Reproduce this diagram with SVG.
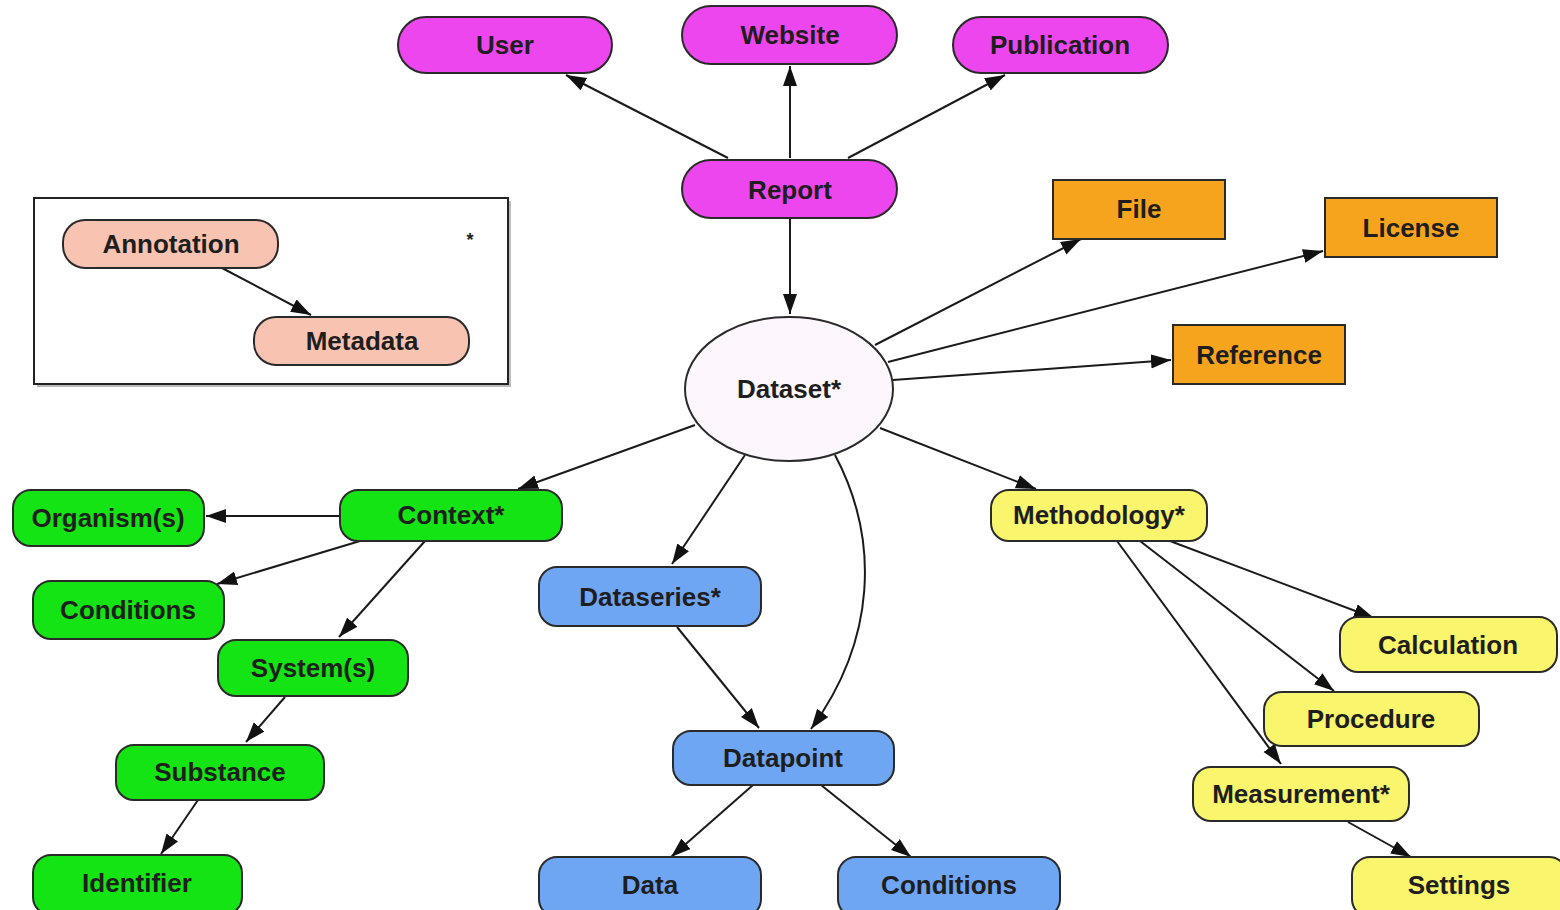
<svg xmlns="http://www.w3.org/2000/svg" width="1560" height="910" viewBox="0 0 1560 910">
<defs>
<marker id="arr" markerUnits="userSpaceOnUse" markerWidth="22" markerHeight="16" refX="20" refY="7" orient="auto">
<path d="M0,0 L20,7 L0,14 z" fill="#111"/>
</marker>
<style>
.t{font-family:"Liberation Sans",Arial,sans-serif;font-weight:bold;font-size:26px;fill:#1e1e1e;text-anchor:middle}
.n{stroke:#2a2a2a;stroke-width:2}
.mag{fill:#ee46ee}
.pink{fill:#f9c3b1}
.org{fill:#f6a41d}
.grn{fill:#14e414}
.blu{fill:#6fa6f4}
.yel{fill:#f9f56c}
.e{fill:none;stroke:#1a1a1a;stroke-width:2;marker-end:url(#arr)}
</style>
</defs>
<rect width="1560" height="910" fill="#fff"/>

<g id="legend">
<rect x="37" y="201" width="474" height="186" fill="#bbb"/>
<rect x="34" y="198" width="474" height="186" fill="#fff" stroke="#222" stroke-width="2"/>
<text x="470" y="246" class="t" style="font-size:18px">*</text>
</g>

<g id="connectors">
<path class="e" d="M728,158 L566,75"/>
<path class="e" d="M790,158 L790,66"/>
<path class="e" d="M848,158 L1005,75"/>
<path class="e" d="M790,218 L790,314"/>
<path class="e" d="M222,268 L311,315"/>
<path class="e" d="M875,345 L1081,239"/>
<path class="e" d="M888,362 L1323,251"/>
<path class="e" d="M893,380 L1171,360"/>
<path class="e" d="M695,425 L518,489"/>
<path class="e" d="M745,455 L672,564"/>
<path class="e" d="M835,455 C880,540 876,640 811,729"/>
<path class="e" d="M880,428 L1036,489"/>
<path class="e" d="M340,516 L206,516"/>
<path class="e" d="M360,541 L217,584"/>
<path class="e" d="M425,541 L339,637"/>
<path class="e" d="M285,697 L246,742"/>
<path class="e" d="M198,800 L161,854"/>
<path class="e" d="M677,627 L759,728"/>
<path class="e" d="M753,785 L671,857"/>
<path class="e" d="M821,785 L911,857"/>
<path class="e" d="M1170,541 L1374,618"/>
<path class="e" d="M1140,541 L1334,691"/>
<path class="e" d="M1117,541 L1281,764"/>
<path class="e" d="M1348,822 L1411,857"/>
</g>

<g id="user"><rect class="n mag" x="398" y="17" width="214" height="56" rx="28"/><text class="t" x="505" y="54">User</text></g>
<g id="website"><rect class="n mag" x="682" y="6" width="215" height="58" rx="29"/><text class="t" x="790" y="44">Website</text></g>
<g id="publication"><rect class="n mag" x="953" y="17" width="215" height="56" rx="28"/><text class="t" x="1060" y="54">Publication</text></g>
<g id="report"><rect class="n mag" x="682" y="160" width="215" height="58" rx="29"/><text class="t" x="790" y="199">Report</text></g>

<g id="annotation"><rect class="n pink" x="63" y="220" width="215" height="48" rx="22"/><text class="t" x="171" y="253">Annotation</text></g>
<g id="metadata"><rect class="n pink" x="254" y="317" width="215" height="48" rx="22"/><text class="t" x="362" y="350">Metadata</text></g>

<g id="dataset"><ellipse class="n" cx="789" cy="389" rx="104" ry="72" fill="#fdf7fd"/><text class="t" x="789" y="398">Dataset*</text></g>

<g id="file"><rect class="n org" x="1053" y="180" width="172" height="59"/><text class="t" x="1139" y="218">File</text></g>
<g id="license"><rect class="n org" x="1325" y="198" width="172" height="59"/><text class="t" x="1411" y="237">License</text></g>
<g id="reference"><rect class="n org" x="1173" y="325" width="172" height="59"/><text class="t" x="1259" y="364">Reference</text></g>

<g id="context"><rect class="n grn" x="340" y="490" width="222" height="51" rx="18"/><text class="t" x="451" y="524">Context*</text></g>
<g id="organism"><rect class="n grn" x="13" y="490" width="191" height="56" rx="18"/><text class="t" x="108" y="527">Organism(s)</text></g>
<g id="conditions1"><rect class="n grn" x="33" y="581" width="191" height="58" rx="18"/><text class="t" x="128" y="619">Conditions</text></g>
<g id="systems"><rect class="n grn" x="218" y="640" width="190" height="56" rx="18"/><text class="t" x="313" y="677">System(s)</text></g>
<g id="substance"><rect class="n grn" x="116" y="745" width="208" height="55" rx="18"/><text class="t" x="220" y="781">Substance</text></g>
<g id="identifier"><rect class="n grn" x="33" y="855" width="209" height="60" rx="18"/><text class="t" x="137" y="892">Identifier</text></g>

<g id="dataseries"><rect class="n blu" x="539" y="567" width="222" height="59" rx="18"/><text class="t" x="650" y="606">Dataseries*</text></g>
<g id="datapoint"><rect class="n blu" x="673" y="731" width="221" height="54" rx="18"/><text class="t" x="783" y="767">Datapoint</text></g>
<g id="data"><rect class="n blu" x="539" y="857" width="222" height="60" rx="18"/><text class="t" x="650" y="894">Data</text></g>
<g id="conditions2"><rect class="n blu" x="838" y="857" width="222" height="60" rx="18"/><text class="t" x="949" y="894">Conditions</text></g>

<g id="methodology"><rect class="n yel" x="991" y="490" width="216" height="51" rx="18"/><text class="t" x="1099" y="524">Methodology*</text></g>
<g id="calculation"><rect class="n yel" x="1340" y="617" width="217" height="55" rx="18"/><text class="t" x="1448" y="654">Calculation</text></g>
<g id="procedure"><rect class="n yel" x="1264" y="692" width="215" height="54" rx="18"/><text class="t" x="1371" y="728">Procedure</text></g>
<g id="measurement"><rect class="n yel" x="1193" y="767" width="216" height="54" rx="18"/><text class="t" x="1301" y="803">Measurement*</text></g>
<g id="settings"><rect class="n yel" x="1352" y="857" width="215" height="60" rx="18"/><text class="t" x="1459" y="894">Settings</text></g>
</svg>
